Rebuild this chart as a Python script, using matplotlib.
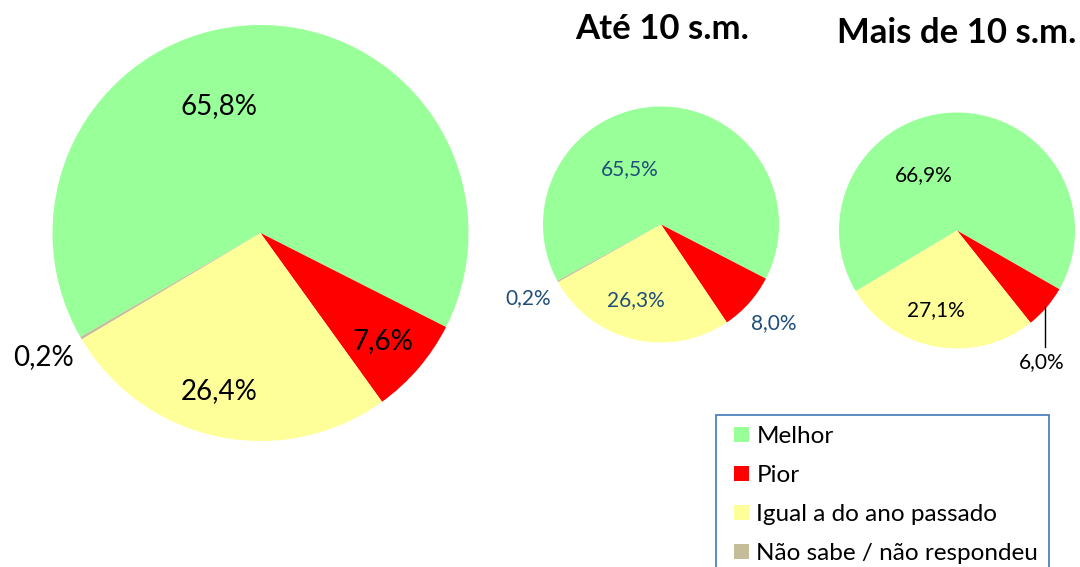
import matplotlib
matplotlib.use("Agg")
import matplotlib.pyplot as plt
from matplotlib.patches import Patch, Rectangle

# dados
categorias = ['Melhor', 'Pior', 'Igual a do ano passado', 'Não sabe / não respondeu']
cores = ['#99FF99', '#FF0000', '#FFFF99', '#C4BD97']

total = [65.8, 7.6, 26.4, 0.2]
ate10 = [65.5, 8.0, 26.3, 0.2]
mais10 = [66.9, 6.0, 27.1, 0.0]

titulos = ['', 'Até 10 s.m.', 'Mais de 10 s.m.']

W, H = 1080, 567
plt.rcParams['font.family'] = ['Lato', 'DejaVu Sans']

fig = plt.figure(figsize=(W / 100, H / 100), dpi=100)
ax = fig.add_axes([0, 0, 1, 1])


def fmt(v):
    return f"{v:.1f}".replace('.', ',') + '%'


def py(y):
    # pixel y (de cima) -> coordenada do eixo
    return H - y


# (centro x, centro y, raio, angulo inicial)
pizzas = [
    (total, 260.5, 233, 208, 210),
    (ate10, 661, 224.5, 118, 208.5),
    (mais10, 957, 230.5, 118, 211),
]

for vals, cx, cy, r, ang in pizzas:
    ax.pie(vals, colors=cores, center=(cx, py(cy)), radius=r, startangle=ang,
           counterclock=False, wedgeprops={'linewidth': 0})

# rotulos (posicao em pixels)
rot_total = [(219, 106), (383, 341), (219, 391), (43, 357)]
rot_ate10 = [(630, 169.5), (773.5, 323), (636, 300), (528.5, 298)]
rot_mais10 = [(924, 175), (1041.6, 362), (936, 310), None]

for vals, pos, cor, fs in [(total, rot_total, 'black', 20),
                           (ate10, rot_ate10, '#1F4E79', 15),
                           (mais10, rot_mais10, 'black', 15)]:
    for v, p in zip(vals, pos):
        if p is None or v == 0:
            continue
        ax.text(p[0], py(p[1]), fmt(v), ha='center', va='center', fontsize=fs, color=cor)

# linha de chamada do 6,0%
ax.plot([1044.6, 1044.6], [py(307), py(347)], color='black', lw=1)

# titulos
ax.text(662, py(29), titulos[1], ha='center', va='center', fontsize=25, fontweight='bold')
ax.text(956.5, py(33), titulos[2], ha='center', va='center', fontsize=25, fontweight='bold')

ax.set_xlim(0, W)
ax.set_ylim(0, H)
ax.set_aspect('equal')
ax.axis('off')

# moldura da legenda (cortada na borda de baixo)
ax.add_patch(Rectangle((716, py(580)), 333, 580 - 415, fill=False,
                       edgecolor='#4F81BD', lw=1.3, clip_on=False))

handles = [Patch(facecolor=c, edgecolor='none') for c in cores]
leg = fig.legend(handles, categorias, loc='upper left',
                 bbox_to_anchor=(734 / W, 1 - 426 / H),
                 borderaxespad=0, borderpad=0, fontsize=17.5, frameon=False,
                 handlelength=0.62, handleheight=0.62, handletextpad=0.3,
                 labelspacing=0.74)

fig.savefig('out.png', dpi=100)
